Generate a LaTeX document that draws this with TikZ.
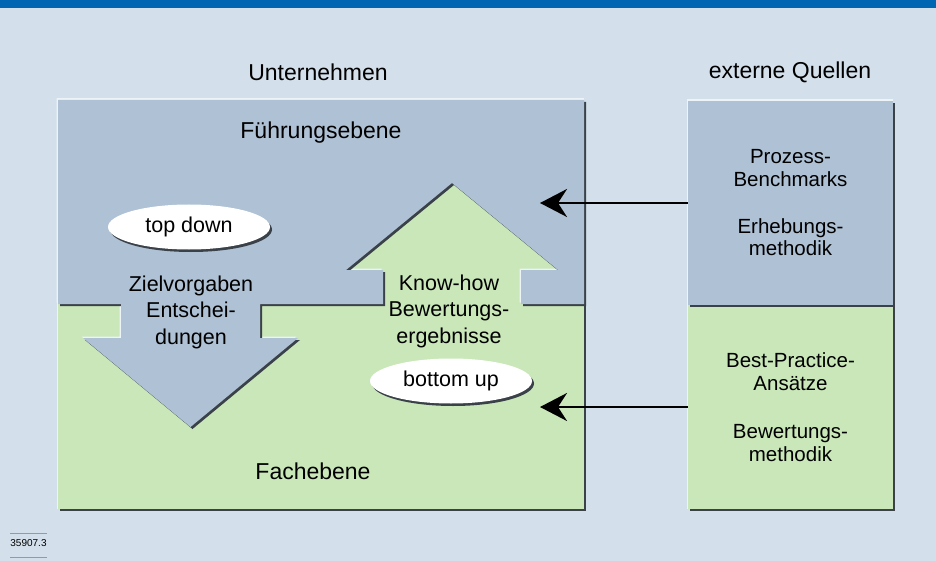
\documentclass[tikz,border=0pt]{standalone}
\usepackage{fontspec}
\setmainfont{Liberation Sans}
\usetikzlibrary{arrows.meta,shapes.geometric,shadows}
\definecolor{hdr}{HTML}{0066B3}
\definecolor{bg}{HTML}{D3DFEA}
\definecolor{bgy}{HTML}{AFC1D4}
\definecolor{grn}{HTML}{C9E7B8}
\definecolor{shd}{HTML}{3A4149}
\definecolor{hl}{HTML}{EEF3F8}
\begin{document}
\begin{tikzpicture}[x=1pt,y=-1pt,
  hd/.style={font=\fontsize{23}{27}\selectfont, inner sep=0pt},
  arrtext/.style={font=\fontsize{21.5}{26.5}\selectfont, align=center, inner sep=0pt},
  rbox/.style={minimum width=205pt, minimum height=204pt, inner sep=0pt, align=center,
    font=\fontsize{20.5}{22.5}\selectfont},
  ell/.style={ellipse, fill=white, minimum width=162pt, minimum height=45pt, inner sep=0pt,
    font=\fontsize{21.5}{26}\selectfont,
    drop shadow={shadow xshift=2pt, shadow yshift=-2.5pt, fill=shd, opacity=1}},
  conn/.style={line width=2.5pt, -{Stealth[length=27pt, width=28pt, inset=9pt]}},
  numline/.style={draw=gray!80, line width=0.8pt}]
\useasboundingbox (0,0) rectangle (936,561);
\fill[bg] (0,0) rectangle (936,561);
\fill[hdr] (0,0) rectangle (936,8);

% ---------------- left box (Unternehmen)
\fill[hl] (56.5,98.5) rectangle (584,509);
\fill[shd] (60,102) rectangle (586,511);
\fill[grn] (58,100) rectangle (584,509);
\def\bluepath{(58,100) -- (584,100) -- (584,304) -- (521,304) -- (521,270) -- (558,270)
  -- (452,183) -- (346,270) -- (383,270) -- (383,304) -- (260,304) -- (260,338)
  -- (298,338) -- (190.5,427) -- (83,338) -- (121,338) -- (121,304) -- (58,304) -- cycle}
\fill[hl, shift={(-1.5,-1.5)}] \bluepath;
\fill[shd, shift={(2,2)}] \bluepath;
\fill[bgy] \bluepath;

% ---------------- right box (externe Quellen)
\fill[hl] (686.5,99.5) rectangle (893,509);
\fill[shd] (690,103) rectangle (895,511);
\fill[grn] (688,101) rectangle (893,509);
\fill[shd] (690,103) rectangle (895,307);
\fill[bgy] (688,101) rectangle (893,305);

\node[rbox] (rtop) at (790.5,203) {Prozess-\\Benchmarks\\[24.5pt]Erhebungs-\\methodik};
\node[rbox] (rbot) at (790.5,407) {Best-Practice-\\Ansätze\\[26pt]Bewertungs-\\methodik};

% ---------------- texts
\node[hd] (unt) at (318,72) {Unternehmen};
\node[hd] (ext) at (790,72) {externe Quellen};
\node[hd] (fue) at (321,133) {Führungsebene};
\node[hd] (fach) at (313,471) {Fachebene};

\node[arrtext] (ziel) at (191,312) {Zielvorgaben\\Entschei-\\dungen};
\node[arrtext] (know) at (449,311) {Know-how\\Bewertungs-\\ergebnisse};

\node[ell] (td) at (189,227) {top down};
\node[ell] (bu) at (451,381) {bottom up};

% ---------------- connectors
\coordinate (e1) at (540,203);
\coordinate (e2) at (540,407);
\draw[conn] (rtop.west) -- (e1);
\draw[conn] (rbot.west) -- (e2);

% ---------------- figure number
\node[font=\fontsize{10}{12}\selectfont, inner sep=0pt] (num) at (28.5,543) {35907.3};
\draw[numline] (10,533) -- (47,533);
\draw[numline] (10,557) -- (47,557);
\end{tikzpicture}
\end{document}
